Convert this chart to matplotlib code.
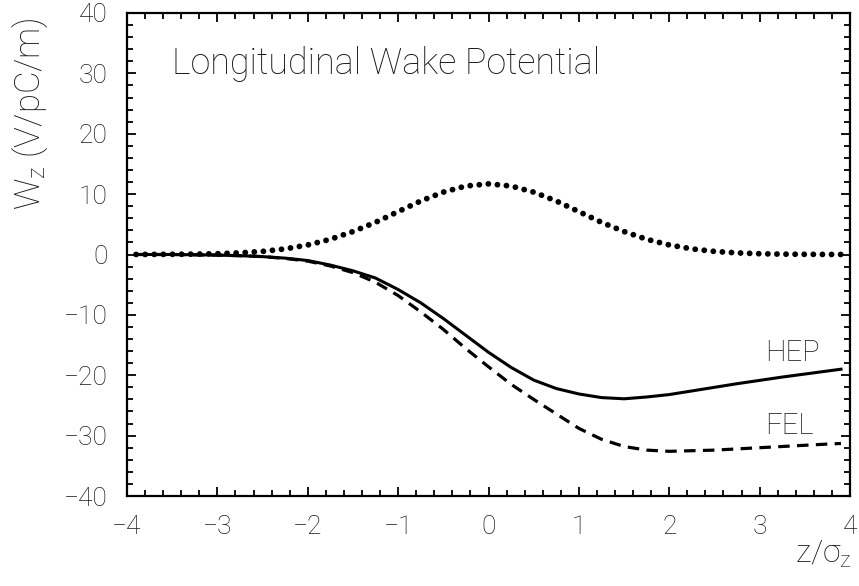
import matplotlib
matplotlib.use("Agg")
import matplotlib.pyplot as plt
from matplotlib.ticker import MultipleLocator

plt.rcParams['font.family'] = ['Roboto', 'DejaVu Sans']
plt.rcParams['font.weight'] = 'light'
plt.rcParams['mathtext.fontset'] = 'custom'
plt.rcParams['mathtext.rm'] = 'Roboto:light'
plt.rcParams['mathtext.it'] = 'Roboto:light'

# Position along the bunch in units of sigma_z
z = [-3.9, -3.5, -3.25, -3.0, -2.75, -2.5, -2.25, -2.0, -1.75, -1.5, -1.25,
     -1.0, -0.75, -0.5, -0.25, 0.0, 0.25, 0.5, 0.75, 1.0, 1.25, 1.5, 1.75,
     2.0, 2.25, 2.5, 2.75, 3.0, 3.25, 3.5, 3.75, 3.9]

# Wake potential, HEP-type bunch (V/pC/m)
wake_hep = [0.0, 0.0, -0.05, -0.1, -0.2, -0.35, -0.6, -1.0, -1.75, -2.7, -3.9,
            -5.8, -8.0, -10.6, -13.4, -16.2, -18.7, -20.8, -22.2, -23.1, -23.7,
            -23.9, -23.6, -23.2, -22.6, -22.0, -21.4, -20.85, -20.3, -19.8,
            -19.3, -19.0]

# Wake potential, FEL-type bunch (V/pC/m)
wake_fel = [0.0, 0.0, -0.05, -0.1, -0.2, -0.35, -0.65, -1.1, -1.9, -3.0, -4.6,
            -6.8, -9.5, -12.4, -15.6, -18.6, -21.5, -24.0, -26.4, -28.8, -30.6,
            -31.8, -32.4, -32.6, -32.5, -32.4, -32.2, -32.0, -31.8, -31.6,
            -31.4, -31.3]

# Bunch charge profile (arbitrary scale)
profile = [0.005, 0.03, 0.06, 0.13, 0.27, 0.51, 0.93, 1.58, 2.52, 3.80, 5.33,
           7.10, 8.86, 10.33, 11.34, 11.7, 11.34, 10.33, 8.86, 7.10, 5.33,
           3.80, 2.52, 1.58, 0.93, 0.51, 0.27, 0.13, 0.06, 0.03, 0.01, 0.005]

fig = plt.figure(figsize=(8.59, 5.86), dpi=100)
ax = fig.add_axes([127 / 859, 1 - 496 / 586, 723 / 859, 483 / 586])

ax.plot(z, profile, color='black', lw=4.2, linestyle=(0, (0.01, 1.55)),
        dash_capstyle='round', solid_capstyle='round')
ax.plot(z, wake_hep, color='black', lw=2.2)
ax.plot(z, wake_fel, color='black', lw=2.3, linestyle=(0, (3.6, 2.3)))

ax.set_xlim(-4, 4)
ax.set_ylim(-40, 40)
ax.xaxis.set_major_locator(MultipleLocator(1))
ax.xaxis.set_minor_locator(MultipleLocator(0.2))
ax.yaxis.set_major_locator(MultipleLocator(10))
ax.yaxis.set_minor_locator(MultipleLocator(2))
ax.tick_params(which='both', direction='in', top=True, right=True,
               color='black', width=1.3)
ax.tick_params(which='major', length=6.5, pad=14, labelsize=19,
               labelcolor='#1a1a1a')
ax.tick_params(which='minor', length=4)
for sp in ax.spines.values():
    sp.set_linewidth(1.6)

txt = dict(color='#1a1a1a')
ax.text(-3.5, 31.5, 'Longitudinal Wake Potential', fontsize=25.8,
        ha='left', va='center', **txt)
ax.text(3.06, -16.3, 'HEP', fontsize=21, ha='left', va='center', **txt)
ax.text(3.06, -28.4, 'FEL', fontsize=21, ha='left', va='center', **txt)

fig.text(852 / 859, 1 - 563 / 586, r'z/$\sigma_{\mathrm{z}}$', fontsize=23,
         ha='right', va='baseline', **txt)
fig.text(30 / 859, 1 - 17 / 586, r'W$_{\mathrm{z}}$ (V/pC/m)', fontsize=25,
         rotation=90, ha='center', va='top', **txt)

fig.savefig('out.png', dpi=100)
